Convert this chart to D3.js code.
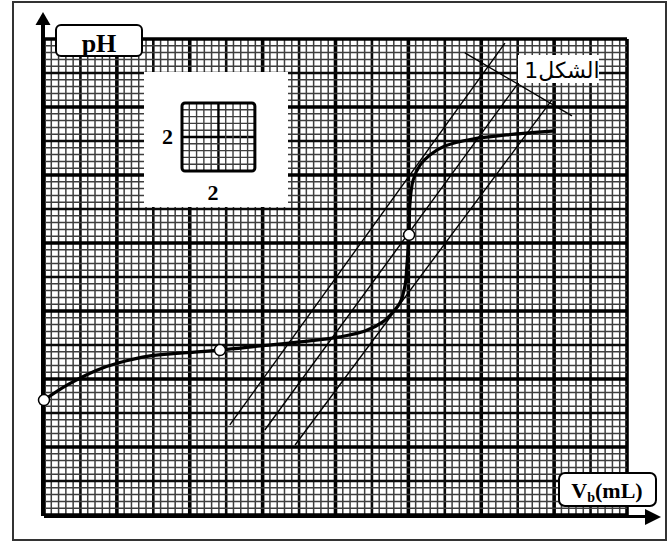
<!DOCTYPE html>
<html>
<head>
<meta charset="utf-8">
<script src="https://cdn.jsdelivr.net/npm/d3@7"></script>
<style>
  html, body { margin: 0; padding: 0; background: #fff; }
  svg { display: block; }
  .serif { font-family: "Liberation Serif", "Times New Roman", serif; font-weight: bold; }
</style>
</head>
<body>
<svg id="chart" width="669" height="545"></svg>
<script>
// titration curve pH = f(Vb) (1 big square = 1 unit)
const volumes = [0, 0.63, 1.45, 2.03, 2.91, 3.73, 4.83, 5.93, 7.03, 8.12, 8.81, 9.3, 9.58, 9.77,
  9.91, 9.96, 10.02, 10.04, 10.13, 10.32, 10.59, 11.0, 11.77, 12.7, 13.94];
const phValues = [3.38, 3.82, 4.26, 4.47, 4.68, 4.76, 4.85, 4.97, 5.09, 5.24, 5.41, 5.68, 5.97, 6.24,
  6.76, 7.35, 8.24, 9.12, 9.85, 10.29, 10.59, 10.85, 11.06, 11.18, 11.29];

// marked points: start, half equivalence, equivalence
const markerVolumes = [0, 4.83, 10.02];
const markerPh = [3.38, 4.85, 8.24];

// parallel tangents + perpendicular, as [Vb1, pH1, Vb2, pH2]
const tangentTop = [5.10, 2.65, 12.65, 13.88];
const tangentMid = [6.06, 2.50, 12.98, 12.65];
const tangentLow = [6.89, 2.06, 13.94, 12.21];
const perpendicular = [11.55, 13.59, 14.49, 11.74];

const xMax = 16;
const yMax = 14;
const minorStep = 0.2;

const svg = d3.select("#chart");

const x = d3.scaleLinear().domain([0, xMax]).range([44, 627]);
const y = d3.scaleLinear().domain([0, yMax]).range([515, 39]);

function gridStyle(i) {
  if (i % 10 === 0) return { w: 3.6, c: "#000" };
  if (i % 5 === 0) return { w: 2.6, c: "#0a0a0a" };
  return { w: 1.5, c: "#3e3e3e" };
}

function drawFrame() {
  svg.append("rect")
    .attr("x", 13).attr("y", 2)
    .attr("width", 653).attr("height", 538)
    .attr("fill", "none")
    .attr("stroke", "#333")
    .attr("stroke-width", 2);
}

function drawGrid() {
  const g = svg.append("g");
  const nx = Math.round(xMax / minorStep);
  const ny = Math.round(yMax / minorStep);

  // thin lines first so the heavy ones sit on top
  const vert = d3.range(nx + 1).sort((a, b) => gridStyle(a).w - gridStyle(b).w);
  vert.forEach(function (i) {
    const s = gridStyle(i);
    g.append("line")
      .attr("x1", x(i * minorStep)).attr("x2", x(i * minorStep))
      .attr("y1", y(0)).attr("y2", y(yMax))
      .attr("stroke", s.c).attr("stroke-width", s.w);
  });

  const horiz = d3.range(ny + 1).sort((a, b) => gridStyle(a).w - gridStyle(b).w);
  horiz.forEach(function (i) {
    const s = gridStyle(i);
    g.append("line")
      .attr("x1", x(0)).attr("x2", x(xMax))
      .attr("y1", y(i * minorStep)).attr("y2", y(i * minorStep))
      .attr("stroke", s.c).attr("stroke-width", s.w);
  });
}

function drawAxes() {
  // vertical pH axis
  svg.append("line")
    .attr("x1", 43).attr("x2", 43)
    .attr("y1", y(0) + 1).attr("y2", 24)
    .attr("stroke", "#000").attr("stroke-width", 4);
  svg.append("path")
    .attr("d", "M35.5,25 L50.5,25 L43,12 Z")
    .attr("fill", "#000");

  // horizontal Vb axis
  svg.append("line")
    .attr("x1", x(0)).attr("x2", 648)
    .attr("y1", 516.5).attr("y2", 516.5)
    .attr("stroke", "#000").attr("stroke-width", 3);
  svg.append("path")
    .attr("d", "M645,509 L645,525 L661,517 Z")
    .attr("fill", "#000");
}

function drawLabels() {
  // pH box
  svg.append("rect")
    .attr("x", 56).attr("y", 25).attr("width", 86).attr("height", 31)
    .attr("rx", 5)
    .attr("fill", "#fff").attr("stroke", "#000").attr("stroke-width", 2);
  svg.append("text")
    .attr("class", "serif")
    .attr("x", 99).attr("y", 52)
    .attr("text-anchor", "middle")
    .attr("font-size", 26)
    .text("pH");

  // Vb box
  svg.append("rect")
    .attr("x", 559).attr("y", 473).attr("width", 97).attr("height", 33)
    .attr("rx", 6)
    .attr("fill", "#fff").attr("stroke", "#000").attr("stroke-width", 2);
  const vb = svg.append("text")
    .attr("class", "serif")
    .attr("x", 607).attr("y", 498)
    .attr("text-anchor", "middle")
    .attr("font-size", 22);
  vb.append("tspan").text("V");
  vb.append("tspan").attr("font-size", 14).attr("dy", 4).text("b");
  vb.append("tspan").attr("dy", -4).text("(mL)");

  // figure label
  svg.append("rect")
    .attr("x", 518).attr("y", 55).attr("width", 81).attr("height", 28)
    .attr("fill", "#fff");
  svg.append("text")
    .attr("x", 562).attr("y", 78)
    .attr("text-anchor", "middle")
    .attr("font-family", "'DejaVu Sans', sans-serif")
    .attr("font-size", 22)
    .text("الشكل1");
}

function drawScaleInset() {
  svg.append("rect")
    .attr("x", 144).attr("y", 72).attr("width", 144).attr("height", 135)
    .attr("fill", "#fff");

  const w = x(2) - x(0);
  const h = y(0) - y(2);
  const left = 182;
  const top = 103;
  const g = svg.append("g");

  d3.range(1, 10).forEach(function (i) {
    const mid = i === 5;
    g.append("line")
      .attr("x1", left + i * w / 10).attr("x2", left + i * w / 10)
      .attr("y1", top).attr("y2", top + h)
      .attr("stroke", mid ? "#000" : "#3e3e3e")
      .attr("stroke-width", mid ? 2.4 : 1.4);
    g.append("line")
      .attr("x1", left).attr("x2", left + w)
      .attr("y1", top + i * h / 10).attr("y2", top + i * h / 10)
      .attr("stroke", mid ? "#000" : "#3e3e3e")
      .attr("stroke-width", mid ? 2.4 : 1.4);
  });

  g.append("rect")
    .attr("x", left).attr("y", top).attr("width", w).attr("height", h)
    .attr("rx", 3)
    .attr("fill", "none").attr("stroke", "#000").attr("stroke-width", 3);

  svg.append("text")
    .attr("class", "serif")
    .attr("x", 167.5).attr("y", 144)
    .attr("text-anchor", "middle")
    .attr("font-size", 22)
    .text("2");
  svg.append("text")
    .attr("class", "serif")
    .attr("x", 213).attr("y", 200)
    .attr("text-anchor", "middle")
    .attr("font-size", 22)
    .text("2");
}

function drawTangents() {
  [tangentTop, tangentMid, tangentLow, perpendicular].forEach(function (d) {
    svg.append("line")
      .attr("x1", x(d[0])).attr("y1", y(d[1]))
      .attr("x2", x(d[2])).attr("y2", y(d[3]))
      .attr("stroke", "#000")
      .attr("stroke-width", 1.4);
  });
}

function drawCurve() {
  const points = volumes.map(function (v, i) { return [v, phValues[i]]; });

  const line = d3.line()
    .x(function (d) { return x(d[0]); })
    .y(function (d) { return y(d[1]); })
    .curve(d3.curveCatmullRom.alpha(0.5));

  svg.append("path")
    .datum(points)
    .attr("d", line)
    .attr("fill", "none")
    .attr("stroke", "#000")
    .attr("stroke-width", 3.2)
    .attr("stroke-linecap", "round");

  svg.selectAll(".marker")
    .data(markerVolumes)
    .enter()
    .append("circle")
    .attr("class", "marker")
    .attr("cx", function (d) { return x(d); })
    .attr("cy", function (d, i) { return y(markerPh[i]); })
    .attr("r", 5.5)
    .attr("fill", "#fff")
    .attr("stroke", "#000")
    .attr("stroke-width", 1.5);
}

drawFrame();
drawGrid();
drawAxes();
drawScaleInset();
drawLabels();
drawTangents();
drawCurve();
</script>
</body>
</html>
